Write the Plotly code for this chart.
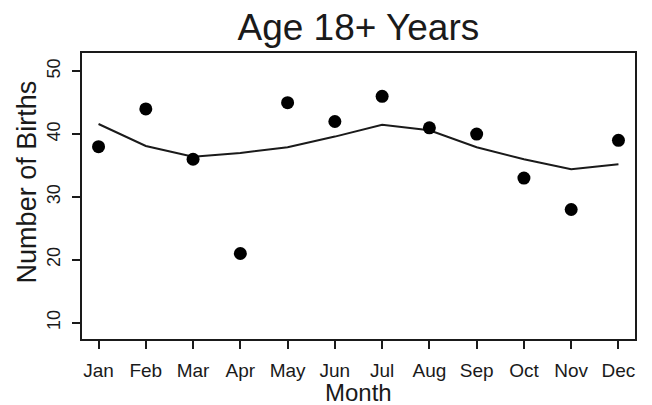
import plotly.graph_objects as go

months = ["Jan", "Feb", "Mar", "Apr", "May", "Jun", "Jul", "Aug", "Sep", "Oct", "Nov", "Dec"]
month_idx = list(range(1, 13))
births = [38, 44, 36, 21, 45, 42, 46, 41, 40, 33, 28, 39]
smooth = [41.6, 38.1, 36.4, 37.0, 37.9, 39.6, 41.5, 40.6, 37.9, 36.0, 34.4, 35.2]
y_ticks = [10, 20, 30, 40, 50]

FONT = "Liberation Sans, Arial, sans-serif"
INK = "#1a1a1a"

fig = go.Figure()
fig.add_trace(go.Scatter(x=month_idx, y=smooth, mode="lines",
                         line=dict(color=INK, width=2), showlegend=False))
fig.add_trace(go.Scatter(x=month_idx, y=births, mode="markers",
                         marker=dict(color="black", size=13), showlegend=False))

# page body has an 8px margin, so the figure is sized to fit the window
fig.update_layout(
    width=644, height=397,
    margin=dict(l=74, r=17, t=45, b=66),
    paper_bgcolor="white", plot_bgcolor="white",
    font=dict(family=FONT, color=INK),
    title=dict(text="Age 18+ Years", x=0.544, xanchor="center", y=0.952, yanchor="middle",
               font=dict(size=37, family=FONT, color=INK)),
    annotations=[
        dict(text="Month", xref="paper", yref="paper", x=0.5, y=-0.187,
             xanchor="center", yanchor="middle", showarrow=False,
             font=dict(size=24, family=FONT, color=INK)),
        dict(text="Number of Births", xref="paper", yref="paper", x=-0.0995, y=0.551,
             xanchor="center", yanchor="middle", showarrow=False, textangle=-90,
             font=dict(size=27, family=FONT, color=INK)),
    ],
)
fig.update_xaxes(
    range=[0.65, 12.35], tickvals=month_idx, ticktext=months,
    ticks="outside", ticklen=8, tickwidth=2, tickcolor=INK,
    showline=True, linecolor=INK, linewidth=2, mirror=True,
    showgrid=False, zeroline=False, automargin=False,
    ticklabelstandoff=5,
    tickfont=dict(size=19, family=FONT, color=INK),
)
fig.update_yaxes(
    range=[7.4, 52.9], tickvals=y_ticks,
    ticks="outside", ticklen=8, tickwidth=2, tickcolor=INK,
    showline=True, linecolor=INK, linewidth=2, mirror=True,
    showgrid=False, zeroline=False, tickangle=-90, automargin=False,
    ticklabelstandoff=5,
    tickfont=dict(size=18, family=FONT, color=INK),
)

fig.write_html("out.html")
